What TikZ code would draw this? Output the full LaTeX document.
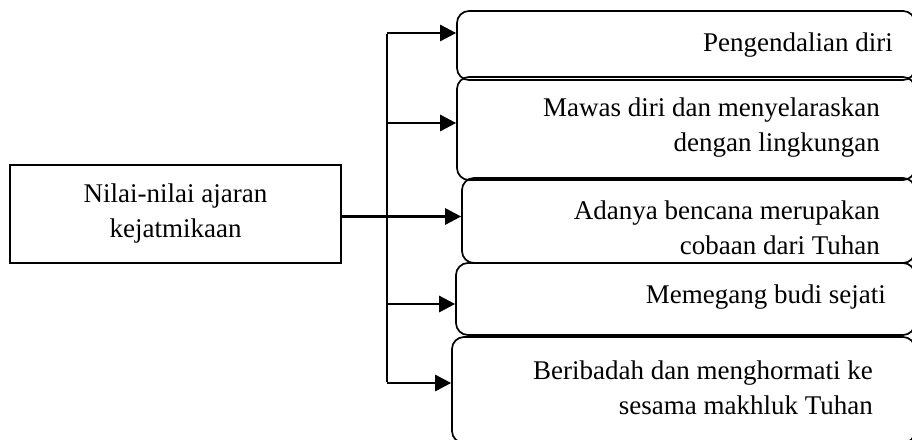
\documentclass[tikz,border=0pt]{standalone}
\usepackage{fontspec}
\setmainfont{Liberation Serif}
\usetikzlibrary{arrows.meta}
\begin{document}
\begin{tikzpicture}[x=1pt,y=-1pt,
  txt/.style={font=\fontsize{27}{35}\selectfont, align=right, inner sep=0pt},
  rbox/.style={draw, line width=1.7pt, rounded corners=12pt, inner sep=0pt},
  srcbox/.style={draw, line width=2pt, inner sep=0pt},
  conn/.style={line width=2.8pt},
  arr/.style={line width=2.8pt, -{Triangle[length=16pt,width=16pt]}}]
\clip (0,0) rectangle (912,439);
\fill[white] (0,0) rectangle (912,439);
% source
\node[srcbox, minimum width=331pt, minimum height=98pt] (src) at (175.5,214) {};
\node[txt, align=center] (srct) at (175.5,214) {Nilai-nilai ajaran\\kejatmikaan};
% right boxes
\node[rbox, minimum width=458pt, minimum height=69pt] (b1) at (686,45.5) {};
\node[rbox, minimum width=458pt, minimum height=103pt] (b2) at (686,128.5) {};
\node[rbox, minimum width=453pt, minimum height=85pt] (b3) at (688.5,220.5) {};
\node[rbox, minimum width=459pt, minimum height=72pt] (b4) at (685.5,299) {};
\node[rbox, minimum width=463pt, minimum height=106pt] (b5) at (683.5,390) {};
% texts
\node[txt, anchor=east] (t1) at (893,45) {Pengendalian diri};
\node[txt, anchor=east] (t2) at (880,128) {Mawas diri dan menyelaraskan\\dengan lingkungan};
\node[txt, anchor=east] (t3) at (880,228) {Adanya bencana merupakan\\cobaan dari Tuhan};
\node[txt, anchor=east] (t4) at (886,297) {Memegang budi sejati};
\node[txt, anchor=east] (t5) at (873,388) {Beribadah dan menghormati ke\\sesama makhluk Tuhan};
% junctions
\coordinate (j1) at (387,33);
\coordinate (j2) at (387,123);
\coordinate (j3) at (387,216.5);
\coordinate (j4) at (387,304);
\coordinate (j5) at (387,383);
\draw[conn] (src.east |- j3) -- (j3);
\draw[conn] ([yshift=-1.4pt]j1) -- ([yshift=1.4pt]j5);
\draw[arr] (j1) -- (j1 -| b1.west);
\draw[arr] (j2) -- (j2 -| b2.west);
\draw[arr] (j3) -- (j3 -| b3.west);
\draw[arr] (j4) -- (j4 -| b4.west);
\draw[arr] (j5) -- (j5 -| b5.west);
\end{tikzpicture}
\end{document}
